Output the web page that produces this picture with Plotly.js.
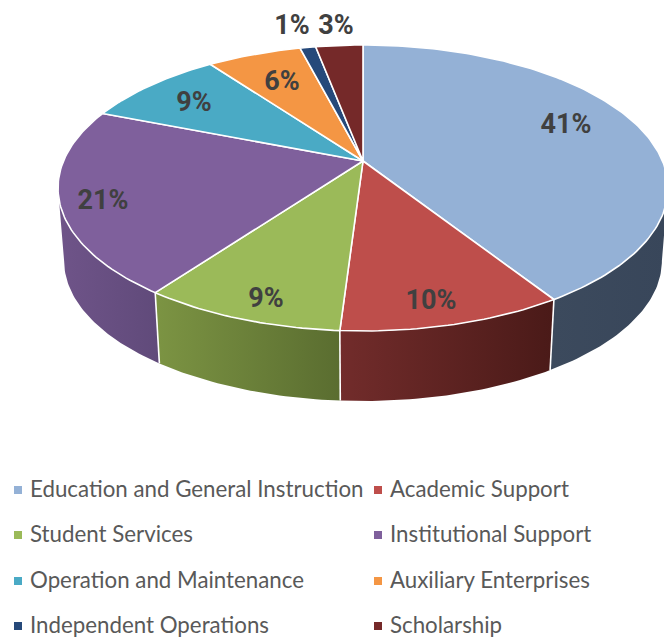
<!DOCTYPE html>
<html>
<head>
<meta charset="utf-8">
<script src="https://cdn.plot.ly/plotly-3.0.1.min.js"></script>
<style>html,body{margin:0;padding:0;background:#fff;overflow:hidden}</style>
</head>
<body>
<div id="chart" style="width:664px;height:638px"></div>
<script>
const categories = ["Education and General Instruction","Academic Support","Student Services","Institutional Support","Operation and Maintenance","Auxiliary Enterprises","Independent Operations","Scholarship"];
const shares = [41,10,9,21,9,6,1,3];
const topColors = ["#94B1D6","#BE4E4B","#9BBA59","#7F609C","#4AAAC5","#F49644","#26497A","#752929"];
const wallColors = {
  0:["#3C4A5D","#38465A"],
  1:["#722C2B","#4A1A18"],
  2:["#7C9443","#5A6D30"],
  3:["#6F5489","#604A7A"]
};
const labelSpots = [[566,126],[431,302],[266,300],[103,202],[194,104],[282,83],[292,27],[336,27]];

// perspective of the disc, in axis units
const cx=363, cy=161, A=299.5, B=137.9, K=0.1888, F=0.98, DY=76.6;
const top_ = a=>{const u=Math.sin(a),v=Math.cos(a),s=1/(1+K*v);return [cx+A*u*s, cy-B*v*s];};
const bot_ = a=>{const p=top_(a);return [cx+F*(p[0]-cx), F*p[1]+DY];};
const rad = d=>d*Math.PI/180;
function sweep(a0,a1,fn){const n=Math.max(2,Math.ceil(Math.abs(a1-a0)));const o=[];for(let i=0;i<=n;i++)o.push(fn(rad(a0+(a1-a0)*i/n)));return o;}

const total = shares.reduce((a,b)=>a+b,0);
let run=0; const bounds=[0];
shares.forEach(v=>{run+=v;bounds.push(run/total*360);});
const tangent = Math.acos(-K)*180/Math.PI;
const traces=[];

// side walls
[[0,tangent,bounds[1]],[1,bounds[1],bounds[2]],[2,bounds[2],bounds[3]],[3,bounds[3],360-tangent]].forEach(([i,a0,a1])=>{
  const pts=sweep(a0,a1,top_).concat(sweep(a1,a0,bot_));
  pts.push(pts[0]);
  traces.push({type:"scatter",mode:"lines",x:pts.map(p=>p[0]),y:pts.map(p=>p[1]),fill:"toself",
    line:{width:0,color:wallColors[i][0]},
    fillgradient:{type:"horizontal",colorscale:[[0,wallColors[i][0]],[1,wallColors[i][1]]]},
    hoverinfo:"skip",showlegend:false});
});
// dividers between walls
[bounds[1],bounds[2],bounds[3]].forEach(a=>{
  const p=top_(rad(a)),q=bot_(rad(a));
  traces.push({type:"scatter",mode:"lines",x:[p[0],q[0]],y:[p[1],q[1]],line:{color:"#FFFFFF",width:1.6},hoverinfo:"skip",showlegend:false});
});
// top face
shares.forEach((v,i)=>{
  const pts=[[cx,cy]].concat(sweep(bounds[i],bounds[i+1],top_));
  pts.push([cx,cy]);
  traces.push({type:"scatter",mode:"lines",x:pts.map(p=>p[0]),y:pts.map(p=>p[1]),fill:"toself",fillcolor:topColors[i],
    line:{color:"#FFFFFF",width:1.6},name:categories[i],hoveron:"fills",text:categories[i]+": "+v+"%",hoverinfo:"text",showlegend:false});
});
// value labels
traces.push({type:"scatter",mode:"text",x:labelSpots.map(p=>p[0]),y:labelSpots.map(p=>p[1]),text:shares.map(v=>v+"%"),
  textposition:"middle center",cliponaxis:false,
  textfont:{family:"Roboto,'Liberation Sans',sans-serif",size:27,color:"#404040",weight:700},
  hoverinfo:"skip",showlegend:false});
// legend, two columns
const colX=[18,378], rowY=[490,535,581,626], textGap=12;
const lx=categories.map((_,i)=>colX[i%2]), ly=categories.map((_,i)=>rowY[Math.floor(i/2)]);
traces.push({type:"scatter",mode:"markers",x:lx,y:ly,
  marker:{symbol:"square",size:8,color:topColors},
  hoverinfo:"skip",showlegend:false});
traces.push({type:"scatter",mode:"text",x:lx.map(v=>v+textGap),y:ly.map(v=>v+1),
  text:categories,textposition:"middle right",cliponaxis:false,
  textfont:{family:"Lato,sans-serif",size:22.3,color:"#595959"},
  hoverinfo:"skip",showlegend:false});

const layout={width:664,height:638,margin:{l:0,r:0,t:0,b:0},paper_bgcolor:"#fff",plot_bgcolor:"#fff",showlegend:false,
  xaxis:{range:[0,664],visible:false,fixedrange:true},
  yaxis:{range:[638,0],visible:false,fixedrange:true}};
Plotly.newPlot("chart",traces,layout,{displayModeBar:false});
</script>
</body>
</html>
